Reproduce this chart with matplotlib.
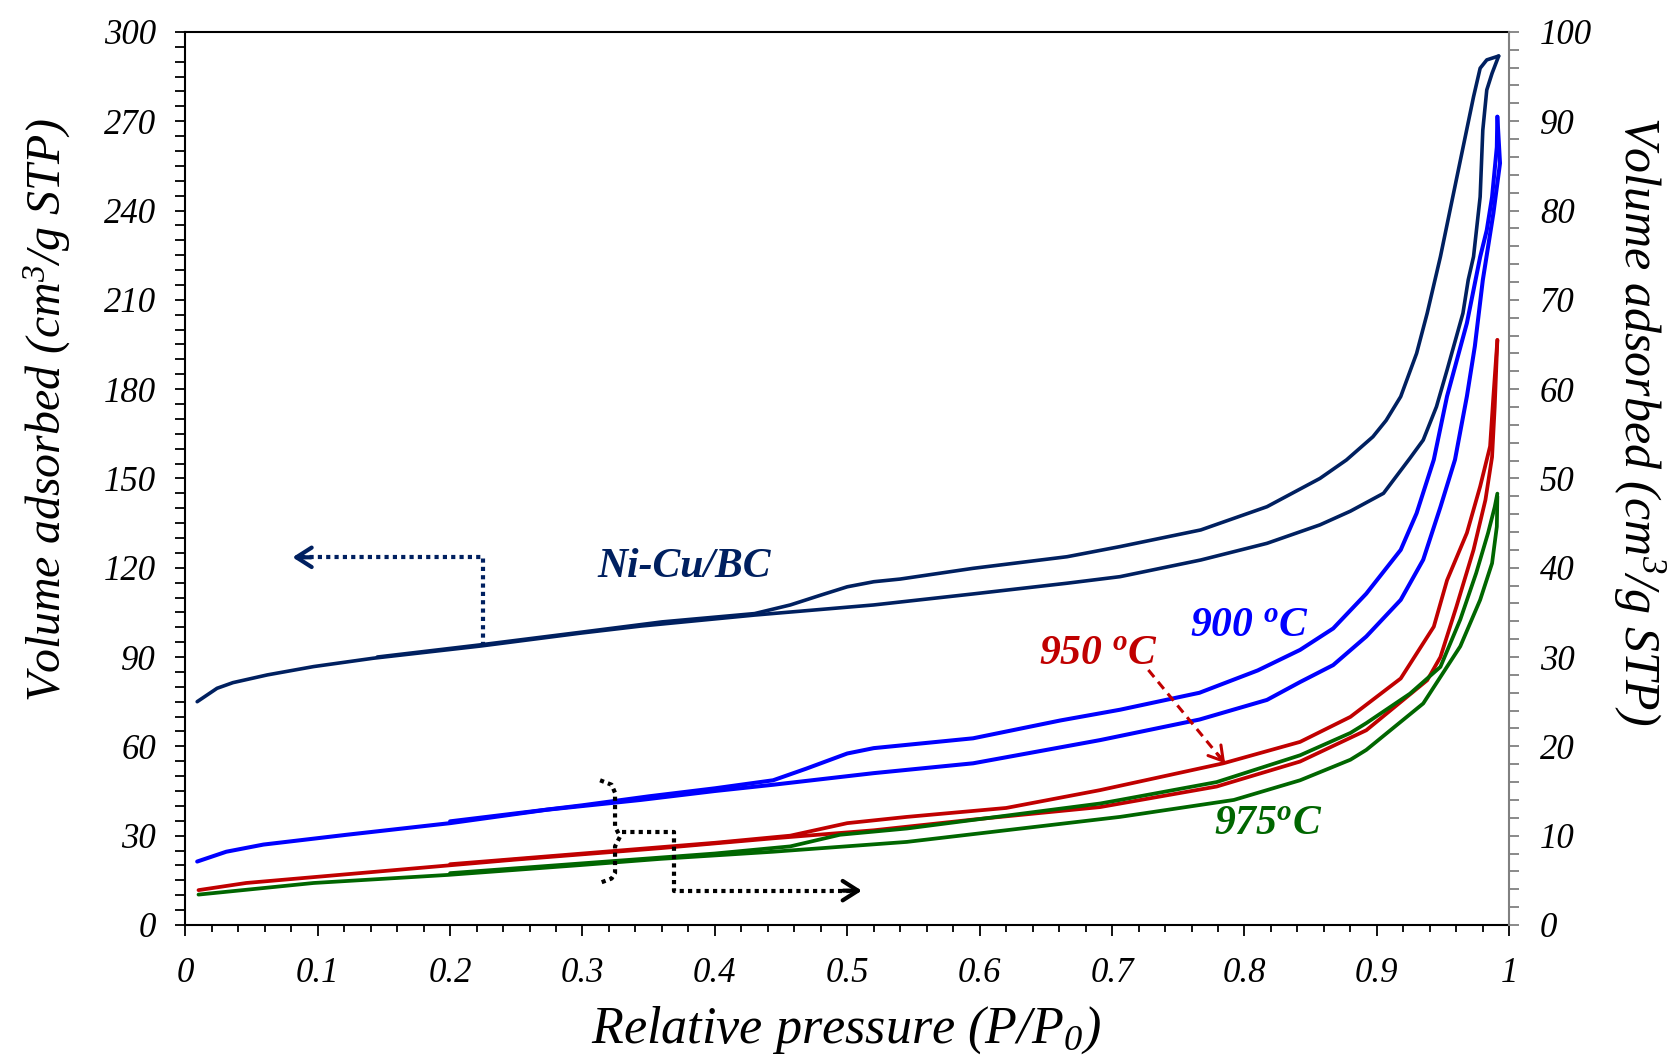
import numpy as np
import matplotlib
matplotlib.use("Agg")
import matplotlib.pyplot as plt
from matplotlib.ticker import MultipleLocator, FuncFormatter

plt.rcParams["font.family"] = ["Liberation Serif", "DejaVu Serif"]
plt.rcParams["font.style"] = "italic"
plt.rcParams["mathtext.fontset"] = "custom"
plt.rcParams["mathtext.rm"] = "Liberation Serif"
plt.rcParams["mathtext.it"] = "Liberation Serif:italic"
plt.rcParams["mathtext.bf"] = "Liberation Serif:bold:italic"

# %%
# Ni-Cu/BC isotherm (left axis, cm3/g STP)
nicu_ads_p = [0.009, 0.024, 0.036, 0.062, 0.097, 0.142, 0.223, 0.298, 0.344, 0.43,
              0.52, 0.595, 0.666, 0.706, 0.767, 0.817, 0.857, 0.880, 0.905, 0.925, 0.935,
              0.945, 0.953, 0.965, 0.969, 0.973, 0.978, 0.980, 0.983, 0.987, 0.992]
nicu_ads_v = [75.0, 79.5, 81.4, 84.0, 86.8, 89.6, 93.7, 98.0, 100.4, 104.1,
              107.5, 111.2, 114.8, 117.0, 122.6, 128.2, 134.4, 139.0, 145.0, 156.8, 162.9,
              174.1, 186.4, 205.5, 216.7, 224.5, 244.6, 267.0, 280.5, 286.1, 291.9]
nicu_des_p = [0.992, 0.983, 0.978, 0.973, 0.960, 0.948, 0.938, 0.930, 0.918, 0.907,
              0.897, 0.877, 0.857, 0.817, 0.767, 0.706, 0.666, 0.595, 0.540, 0.520,
              0.500, 0.480, 0.457, 0.430, 0.360, 0.300, 0.223, 0.145]
nicu_des_v = [291.9, 290.6, 287.8, 278.2, 250.3, 224.5, 205.5, 192.0, 177.5, 169.5,
              164.0, 156.2, 150.0, 140.5, 132.7, 127.1, 123.7, 119.8, 116.2, 115.3,
              113.6, 110.8, 107.5, 104.6, 101.8, 98.4, 94.1, 90.0]

# Carbon samples (right axis, cm3/g STP)
c900_ads_p = [0.009, 0.031, 0.059, 0.122, 0.200, 0.273, 0.344, 0.400, 0.444, 0.520,
              0.595, 0.691, 0.766, 0.817, 0.842, 0.867, 0.892, 0.918, 0.935, 0.948,
              0.959, 0.968, 0.974, 0.980, 0.988, 0.993, 0.991]
c900_ads_v = [7.1, 8.2, 9.0, 10.1, 11.4, 12.9, 14.0, 15.0, 15.7, 17.0,
              18.1, 20.7, 23.0, 25.2, 27.2, 29.1, 32.3, 36.4, 40.9, 46.8,
              52.1, 59.2, 64.8, 72.2, 79.7, 85.3, 90.5]
c900_des_p = [0.991, 0.9906, 0.987, 0.983, 0.978, 0.968, 0.953, 0.943, 0.930, 0.918,
              0.892, 0.867, 0.842, 0.810, 0.766, 0.706, 0.661, 0.595, 0.520, 0.500,
              0.469, 0.444, 0.400, 0.350, 0.300, 0.250, 0.200]
c900_des_v = [90.5, 87.1, 81.5, 77.8, 74.8, 67.4, 59.2, 52.1, 46.1, 42.0,
              37.1, 33.2, 30.8, 28.5, 26.0, 24.1, 22.9, 20.9, 19.8, 19.2,
              17.5, 16.2, 15.3, 14.4, 13.4, 12.5, 11.6]

c950_ads_p = [0.010, 0.046, 0.147, 0.248, 0.359, 0.444, 0.520, 0.595, 0.691, 0.779,
              0.842, 0.892, 0.938, 0.948, 0.960, 0.973, 0.982, 0.987, 0.989, 0.991]
c950_ads_v = [3.9, 4.7, 6.0, 7.3, 8.6, 9.7, 10.6, 11.8, 13.2, 15.5,
              18.3, 21.8, 27.4, 30.0, 35.6, 42.0, 47.6, 52.4, 58.0, 65.5]
c950_des_p = [0.991, 0.988, 0.9855, 0.978, 0.968, 0.953, 0.943, 0.918, 0.880, 0.842,
              0.784, 0.691, 0.620, 0.545, 0.500, 0.457, 0.400, 0.300, 0.200]
c950_des_v = [65.5, 59.2, 53.6, 49.1, 43.9, 38.6, 33.4, 27.6, 23.3, 20.5,
              18.1, 15.1, 13.1, 12.1, 11.4, 10.0, 9.2, 8.0, 6.8]

c975_ads_p = [0.010, 0.097, 0.198, 0.298, 0.359, 0.444, 0.545, 0.706, 0.792, 0.842,
              0.880, 0.892, 0.935, 0.963, 0.978, 0.987, 0.9906, 0.991]
c975_ads_v = [3.4, 4.7, 5.6, 6.7, 7.4, 8.2, 9.3, 12.1, 14.0, 16.2,
              18.5, 19.6, 24.8, 31.2, 36.4, 40.5, 44.6, 48.0]
c975_des_p = [0.991, 0.989, 0.984, 0.975, 0.963, 0.948, 0.925, 0.892, 0.880, 0.842,
              0.779, 0.706, 0.691, 0.545, 0.4945, 0.457, 0.400, 0.300, 0.200]
c975_des_v = [48.3, 46.8, 43.9, 39.4, 34.2, 28.9, 25.9, 22.6, 21.5, 19.0,
              16.0, 14.0, 13.6, 10.8, 10.1, 8.8, 8.0, 6.9, 5.8]

NAVY = "#002060"
BLUE = "#0000FF"
RED = "#C00000"
GREEN = "#006600"

# %%
fig = plt.figure(figsize=(16.69, 10.60), dpi=100)
ax = fig.add_axes([0.111, 0.1274, 0.7933, 0.8425])
ax2 = ax.twinx()

ax.plot(nicu_ads_p, nicu_ads_v, color=NAVY, lw=2.6, solid_capstyle="round",
        solid_joinstyle="round")
ax.plot(nicu_des_p, nicu_des_v, color=NAVY, lw=2.6, solid_capstyle="round",
        solid_joinstyle="round")

for p, v, c, w in [
    (c900_ads_p, c900_ads_v, BLUE, 2.9),
    (c900_des_p, c900_des_v, BLUE, 2.9),
    (c950_ads_p, c950_ads_v, RED, 2.7),
    (c950_des_p, c950_des_v, RED, 2.7),
    (c975_ads_p, c975_ads_v, GREEN, 2.7),
    (c975_des_p, c975_des_v, GREEN, 2.7),
]:
    ax2.plot(p, v, color=c, lw=w, solid_capstyle="round", solid_joinstyle="round")

# axes limits / ticks
ax.set_xlim(0, 1)
ax.set_ylim(0, 300)
ax2.set_ylim(0, 100)
ax.xaxis.set_major_locator(MultipleLocator(0.1))
ax.xaxis.set_minor_locator(MultipleLocator(0.02))
ax.yaxis.set_major_locator(MultipleLocator(30))
ax.yaxis.set_minor_locator(MultipleLocator(5))
ax2.yaxis.set_major_locator(MultipleLocator(10))
ax2.yaxis.set_minor_locator(MultipleLocator(2))
ax.xaxis.set_major_formatter(FuncFormatter(lambda x, pos: f"{x:g}"))

ax.tick_params(axis="x", which="major", direction="out", length=8, width=1.3,
               labelsize=25, pad=15)
ax.tick_params(axis="x", which="minor", direction="out", length=5, width=1.3)
ax.tick_params(axis="y", which="both", direction="out", length=7, width=1.3,
               labelsize=25, pad=14)
ax2.tick_params(axis="y", which="both", direction="out", length=7, width=1.3,
                color="#808080", labelsize=25, pad=15)

for s in ["left", "bottom", "top"]:
    ax.spines[s].set_linewidth(1.5)
ax.spines["right"].set_visible(False)
for s in ["left", "bottom", "top"]:
    ax2.spines[s].set_visible(False)
ax2.spines["right"].set_color("#808080")
ax2.spines["right"].set_linewidth(1.5)

ax.set_xlabel(r"Relative pressure (P/P$_{\mathit{0}}$)", fontsize=37.5,
              va="center", ha="center")
ax.xaxis.set_label_coords(0.499, -0.118)
ax.set_ylabel(r"Volume adsorbed (cm$^{3}$/g STP)", fontsize=34.5,
              va="center", ha="center")
ax.yaxis.set_label_coords(-0.104, 0.577)
ax2.set_ylabel(r"Volume adsorbed (cm$^{3}$/g STP)", fontsize=36, rotation=270,
               va="center", ha="center")
ax2.yaxis.set_label_coords(1.098, 0.565)

# sample labels
ax.text(0.377, 120.3, "Ni-Cu/BC", color=NAVY, fontsize=30, weight="bold",
        ha="center", va="center")
ax2.text(0.804, 33.5, r"900 $^{\mathbf{o}}$C", color=BLUE, fontsize=30,
         weight="bold", ha="center", va="center")
ax2.text(0.690, 30.3, r"950 $^{\mathbf{o}}$C", color=RED, fontsize=30,
         weight="bold", ha="center", va="center")
ax2.text(0.818, 11.3, r"975$^{\mathbf{o}}$C", color=GREEN, fontsize=30,
         weight="bold", ha="center", va="center")

# arrow pointing to the left axis
left_arrow_x = [0.225, 0.225, 0.086]
left_arrow_y = [93.6, 123.5, 123.5]
ax.plot(left_arrow_x, left_arrow_y, color=NAVY, lw=3, ls=(0, (1, 1)),
        dash_capstyle="butt")
ax.annotate("", xy=(0.081, 123.5), xytext=(0.095, 123.5),
            arrowprops=dict(arrowstyle="->,head_length=0.55,head_width=0.35",
                            color=NAVY, lw=3, mutation_scale=20,
                            shrinkA=0, shrinkB=0))

# bracket + arrow pointing to the right axis
brace_x = [0.3133, 0.322, 0.3246, 0.3246, 0.3284, 0.3246, 0.3246, 0.322, 0.313]
brace_y = [16.2, 15.7, 14.8, 11.0, 9.9, 8.8, 5.8, 5.2, 4.7]
ax2.plot(brace_x, brace_y, color="black", lw=3, ls=(0, (1, 1)),
         dash_capstyle="butt")
right_arrow_x = [0.330, 0.3694, 0.3694, 0.505]
right_arrow_y = [10.4, 10.4, 3.84, 3.84]
ax2.plot(right_arrow_x, right_arrow_y, color="black", lw=3, ls=(0, (1, 1)),
         dash_capstyle="butt")
ax2.annotate("", xy=(0.511, 3.84), xytext=(0.497, 3.84),
             arrowprops=dict(arrowstyle="->,head_length=0.55,head_width=0.35",
                             color="black", lw=3, mutation_scale=20,
                             shrinkA=0, shrinkB=0))

# dashed pointer from the 950 label to its isotherm
ax2.plot([0.7274, 0.7836], [28.55, 18.4], color=RED, lw=2.2, ls=(0, (3, 2)))
ax2.annotate("", xy=(0.7854, 18.1), xytext=(0.7796, 19.15),
             arrowprops=dict(arrowstyle="->,head_length=0.5,head_width=0.3",
                             color=RED, lw=2.2, mutation_scale=20,
                             shrinkA=0, shrinkB=0))

fig.savefig("out.png", dpi=100)
